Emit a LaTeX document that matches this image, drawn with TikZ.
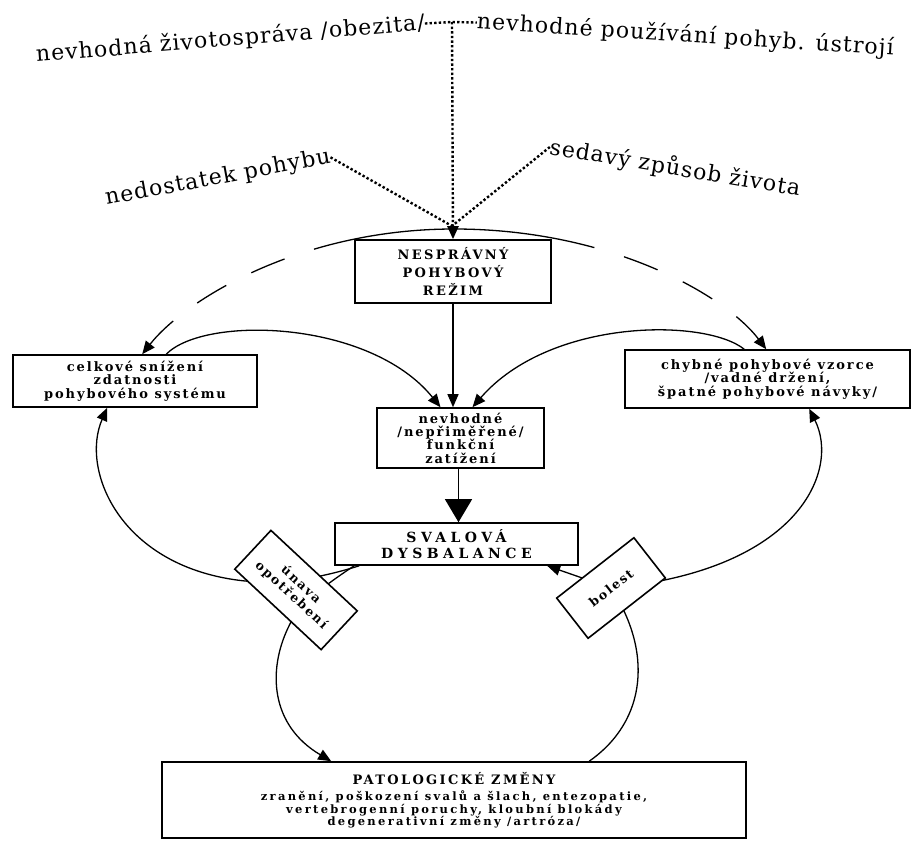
\documentclass[tikz,border=0pt]{standalone}
\usepackage{fontspec}
\setmainfont{DejaVu Serif}
\newfontfamily\boxf[LetterSpace=15]{DejaVu Serif}
\newfontfamily\patf[LetterSpace=20]{DejaVu Serif}
\newfontfamily\capf[LetterSpace=18]{DejaVu Serif}
\newfontfamily\svalf[LetterSpace=32]{DejaVu Serif}
\newfontfamily\topf[LetterSpace=5]{DejaVu Serif}
\usetikzlibrary{arrows.meta,calc}
\pgfdeclarelayer{bg}
\pgfsetlayers{bg,main}
\begin{document}
\begin{tikzpicture}[x=1pt,y=-1pt,
  box/.style={draw, line width=1.6pt, fill=white, inner sep=0pt, align=center},
  conn/.style={line width=1.3pt},
  tip/.style={-{Triangle[length=13pt,width=11pt]}},
  dots/.style={line width=2.4pt, dash pattern=on 2.4pt off 2.2pt},
  arcdash/.style={dash pattern=on 142pt off 31pt on 36pt off 28pt on 34pt off 30pt on 300pt},
  toplab/.style={font=\topf\fontsize{22}{26}\selectfont, inner sep=0pt, anchor=base}
]
\useasboundingbox (0,0) rectangle (915,841);

% top labels
\node[toplab, rotate=4.7] (t1) at (231,46) {nevhodná životospráva /obezita/};
\node[toplab, rotate=-3.6] (t2) at (685,42) {nevhodné používání pohyb. ústrojí};
\node[toplab, rotate=10.5] (t3) at (219,184) {nedostatek pohybu};
\node[toplab, rotate=-9.5] (t4) at (674,175) {sedavý způsob života};

% boxes
\node[box, minimum width=196pt, minimum height=63pt, font=\capf\bfseries\fontsize{13}{18}\selectfont] (nespr) at (453,271.5) {NESPRÁVNÝ\\POHYBOVÝ\\REŽIM};
\node[box, minimum width=244pt, minimum height=52pt, font=\boxf\bfseries\fontsize{13}{13.5}\selectfont] (lbox) at (135,381) {celkové snížení\\zdatnosti\\pohybového systému};
\node[box, minimum width=285pt, minimum height=58pt, font=\boxf\bfseries\fontsize{13}{13.5}\selectfont] (rbox) at (767.5,379) {chybné pohybové vzorce\\/vadné držení,\\špatné pohybové návyky/};
\node[box, minimum width=167pt, minimum height=60pt, font=\boxf\bfseries\fontsize{13}{13.3}\selectfont] (cbox) at (460.5,438) {nevhodné\\/nepřiměřené/\\funkční\\zatížení};
\node[box, minimum width=243pt, minimum height=42pt, font=\svalf\bfseries\fontsize{14}{16.5}\selectfont] (sval) at (456.5,544) {SVALOVÁ\\DYSBALANCE};
\node[box, rotate=-43, minimum width=118pt, minimum height=53pt, font=\boxf\bfseries\fontsize{12.5}{14}\selectfont] (unava) at (296,590) {únava\\opotřebení};
\node[box, rotate=38, minimum width=98pt, minimum height=51pt, font=\boxf\bfseries\fontsize{12.5}{14}\selectfont] (bolest) at (611,588) {bolest};
\node[box, minimum width=584pt, minimum height=76pt, font=\patf\bfseries\fontsize{11.5}{12.5}\selectfont] (patol) at (454,800) {{\capf\bfseries\fontsize{13}{14}\selectfont PATOLOGICKÉ ZMĚNY}\\[4pt]zranění, poškození svalů a šlach, entezopatie,\\vertebrogenní poruchy, kloubní blokády\\degenerativní změny /artróza/};

\coordinate (jn) at (452,22);
\coordinate (cv) at (452,226);
\coordinate (apex) at (454,229);

\begin{pgfonlayer}{bg}
% dotted inputs
\draw[dots] (t1.east) -- (jn) -- (t2.west);
\draw[dots, -{Triangle[length=13pt,width=11pt]}] (jn) -- (nespr.north);
\draw[dots] (t3.east) -- (cv);
\draw[dots] (t4.west) -- (cv);

% big arc, solid middle, dashed ends
\draw[conn, arcdash, tip] (apex) .. controls (300,229) and (185,300) .. ([xshift=130pt]lbox.north west);
\draw[conn, arcdash, tip] (apex) .. controls (610,229) and (725,295) .. ([xshift=142pt]rbox.north west);

% into centre box
\draw[conn, tip] ([xshift=154pt]lbox.north west) .. controls (205,315) and (370,320) .. ([xshift=-20pt]cbox.north);
\draw[conn, tip] ([xshift=120pt]rbox.north west) .. controls (705,318) and (550,318) .. ([xshift=12pt]cbox.north);
\draw[conn, tip] (nespr.south) -- (nespr.south |- cbox.north);
\draw[conn, -{Triangle[length=23pt,width=27pt]}] ([xshift=-2pt]cbox.south) -- ([xshift=-2pt]cbox.south |- sval.north);

% left loops
\draw[conn, tip] ([xshift=25pt]sval.south west) .. controls (320,578) and (285,584) .. (245,581) .. controls (120,568) and (80,470) .. ([xshift=95pt]lbox.south west);
\draw[conn, tip] ([xshift=20pt]sval.south west) .. controls (325,585) and (298,605) .. (288,628) .. controls (268,670) and (270,725) .. ([xshift=170pt]patol.north west);

% right loops
\draw[conn] ([xshift=428pt]patol.north west) .. controls (648,720) and (652,650) .. (bolest.center);
\draw[conn, tip] (bolest.center) -- ([xshift=213pt]sval.south west);
\draw[conn, tip] (bolest.center) .. controls (800,570) and (840,470) .. ([xshift=185pt]rbox.south west);
\end{pgfonlayer}
\end{tikzpicture}
\end{document}
